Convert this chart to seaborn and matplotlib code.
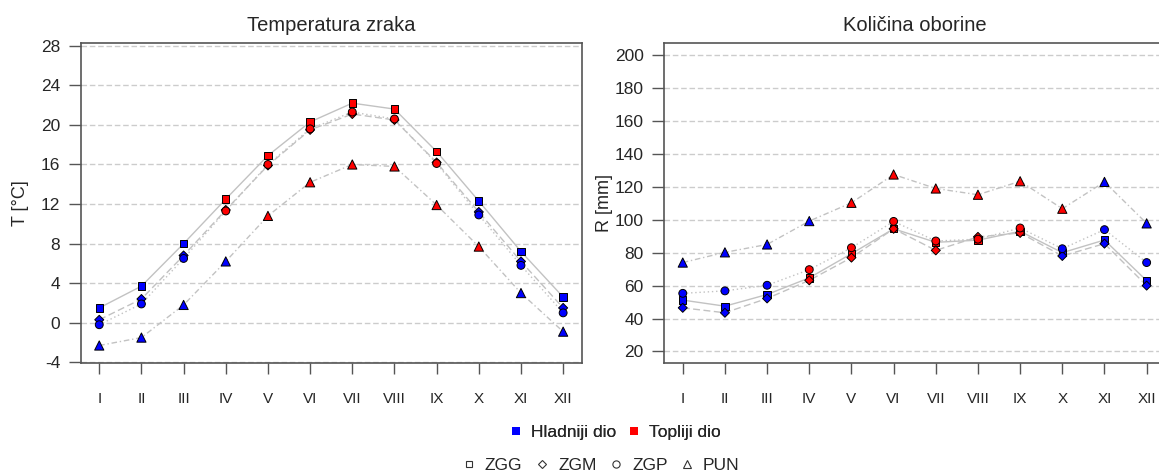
import numpy as np
import pandas as pd
import matplotlib
matplotlib.use("Agg")
import matplotlib.pyplot as plt
import seaborn as sns
from matplotlib.lines import Line2D

# ---------------- data ----------------
months = ["I", "II", "III", "IV", "V", "VI", "VII", "VIII", "IX", "X", "XI", "XII"]
stations = ["ZGG", "ZGM", "ZGP", "PUN"]

temp_zgg = [1.5, 3.7, 8.0, 12.5, 16.9, 20.3, 22.2, 21.6, 17.3, 12.3, 7.2, 2.6]
temp_zgm = [0.3, 2.4, 6.8, 11.4, 15.9, 19.5, 21.1, 20.5, 16.2, 11.2, 6.2, 1.5]
temp_zgp = [-0.2, 1.9, 6.5, 11.3, 16.0, 19.6, 21.3, 20.6, 16.1, 10.9, 5.8, 1.0]
temp_pun = [-2.3, -1.5, 1.8, 6.2, 10.8, 14.2, 16.0, 15.8, 11.9, 7.7, 3.0, -0.9]

rain_zgg = [51.2, 47.5, 54.6, 64.7, 79.4, 94.5, 86.3, 87.6, 93.0, 80.0, 87.7, 63.0]
rain_zgm = [46.5, 43.5, 52.2, 63.2, 77.0, 94.5, 81.4, 89.6, 92.0, 78.0, 85.5, 60.0]
rain_zgp = [55.3, 56.8, 60.2, 69.7, 83.0, 99.0, 87.1, 88.2, 95.0, 82.4, 94.0, 74.0]
rain_pun = [74.0, 80.2, 85.0, 99.2, 110.3, 127.5, 119.0, 115.2, 123.4, 106.7, 123.0, 97.8]

# warm part of the year (Topliji dio) per station
warm_months = {
    "ZGG": ["IV", "V", "VI", "VII", "VIII", "IX"],
    "ZGM": ["IV", "V", "VI", "VII", "VIII", "IX"],
    "ZGP": ["IV", "V", "VI", "VII", "VIII", "IX"],
    "PUN": ["V", "VI", "VII", "VIII", "IX", "X"],
}
part_labels = ["Hladniji dio", "Topliji dio"]
part_colors = ["#0000FF", "#FF0000"]

titles = ["Temperatura zraka", "Količina oborine"]
ylabels = ["T [°C]", "R [mm]"]
temp_ticks = [-4, 0, 4, 8, 12, 16, 20, 24, 28]
rain_ticks = [20, 40, 60, 80, 100, 120, 140, 160, 180, 200]

# ---------------- styling ----------------
sns.set_style("white")
plt.rcParams["font.family"] = ["Liberation Sans", "DejaVu Sans"]

line_color = "#c2c2c2"
spine_color = "#555555"
dash_map = {"ZGG": "", "ZGM": (5, 2.5), "ZGP": (1, 2), "PUN": (4, 2, 1, 2)}
marker_map = {"ZGG": "s", "ZGM": "D", "ZGP": "o", "PUN": "^"}
size_map = {"ZGG": 28, "ZGM": 21, "ZGP": 32, "PUN": 44}
palette = dict(zip(part_labels, part_colors))


def long_df(series):
    rows = []
    for st, vals in zip(stations, series):
        for i, (m, v) in enumerate(zip(months, vals)):
            part = part_labels[1] if m in warm_months[st] else part_labels[0]
            rows.append({"pos": i + 1, "month": m, "station": st, "value": v, "part": part})
    return pd.DataFrame(rows)


df_temp = long_df([temp_zgg, temp_zgm, temp_zgp, temp_pun])
df_rain = long_df([rain_zgg, rain_zgm, rain_zgp, rain_pun])

W, H = 1159, 472
fig = plt.figure(figsize=(W / 100, H / 100), dpi=100)
ax_w = 501 / W
ax_b = 1 - 363.3 / H
ax_h = (363.3 - 43.3) / H
ax1 = fig.add_axes([80.7 / W, ax_b, ax_w, ax_h])
ax2 = fig.add_axes([664.2 / W, ax_b, ax_w, ax_h])


def draw(ax, df, ylim, yticks, title, ylabel):
    ax.set_axisbelow(True)
    ax.yaxis.grid(True, color="#cccccc", linestyle=(0, (4, 2)), linewidth=1.0)
    ax.xaxis.grid(False)
    sns.lineplot(data=df, x="pos", y="value", style="station", style_order=stations,
                 dashes=dash_map, color=line_color, linewidth=1.0, legend=False,
                 estimator=None, sort=False, ax=ax, zorder=2)
    for st in stations:
        sub = df[df["station"] == st]
        sns.scatterplot(data=sub, x="pos", y="value", hue="part", palette=palette,
                        marker=marker_map[st], s=size_map[st], edgecolor="black",
                        linewidth=0.7, legend=False, ax=ax, zorder=3)
    ax.set_xlim(0.56, 12.44)
    ax.set_ylim(*ylim)
    ax.set_xticks(range(1, 13))
    ax.set_xticklabels(months)
    ax.set_yticks(yticks)
    ax.set_yticklabels([str(t) for t in yticks])
    ax.set_xlabel("")
    ax.set_ylabel(ylabel, fontsize=13)
    ax.yaxis.set_label_coords(-0.103, 0.5)
    ax.set_title(title, fontsize=14.5, pad=9.2)
    ax.tick_params(axis="x", length=7.9, width=1.0, color=spine_color, pad=12.5,
                   labelsize=11, bottom=True)
    ax.tick_params(axis="y", length=8.6, width=1.0, color=spine_color, pad=6.2,
                   labelsize=12.5, left=True)
    for lab in ax.get_xticklabels():
        lab.set_family(["Liberation Sans Narrow", "Liberation Sans", "DejaVu Sans"])
    for sp in ax.spines.values():
        sp.set_color(spine_color)
        sp.set_linewidth(1.2)


draw(ax1, df_temp, (-4.1, 28.25), temp_ticks, titles[0], ylabels[0])
draw(ax2, df_rain, (12.8, 207.2), rain_ticks, titles[1], ylabels[1])

# ---------------- legends ----------------
h1 = [Line2D([], [], linestyle="none", marker="s", markersize=5.2, markerfacecolor=c,
             markeredgecolor=c, markeredgewidth=0) for c in part_colors]
leg1 = fig.legend(h1, part_labels, loc="center", bbox_to_anchor=(0.5305, 1 - 432.7 / H),
                  ncol=2, frameon=False, fontsize=12.5, handlelength=0.8, handletextpad=0.5,
                  columnspacing=0.6, borderpad=0, borderaxespad=0)
fig.add_artist(leg1)
h2 = [Line2D([], [], linestyle="none", marker=marker_map[st],
             markersize={"ZGG": 5.0, "ZGM": 4.4, "ZGP": 5.2, "PUN": 6.0}[st],
             markerfacecolor="none", markeredgecolor="#333333", markeredgewidth=0.8)
      for st in stations]
fig.legend(h2, stations, loc="center", bbox_to_anchor=(0.5186, 1 - 465 / H),
           ncol=4, frameon=False, fontsize=12.5, handlelength=0.8, handletextpad=0.5,
           columnspacing=0.75, borderpad=0, borderaxespad=0)

fig.savefig("out.png", dpi=100)
